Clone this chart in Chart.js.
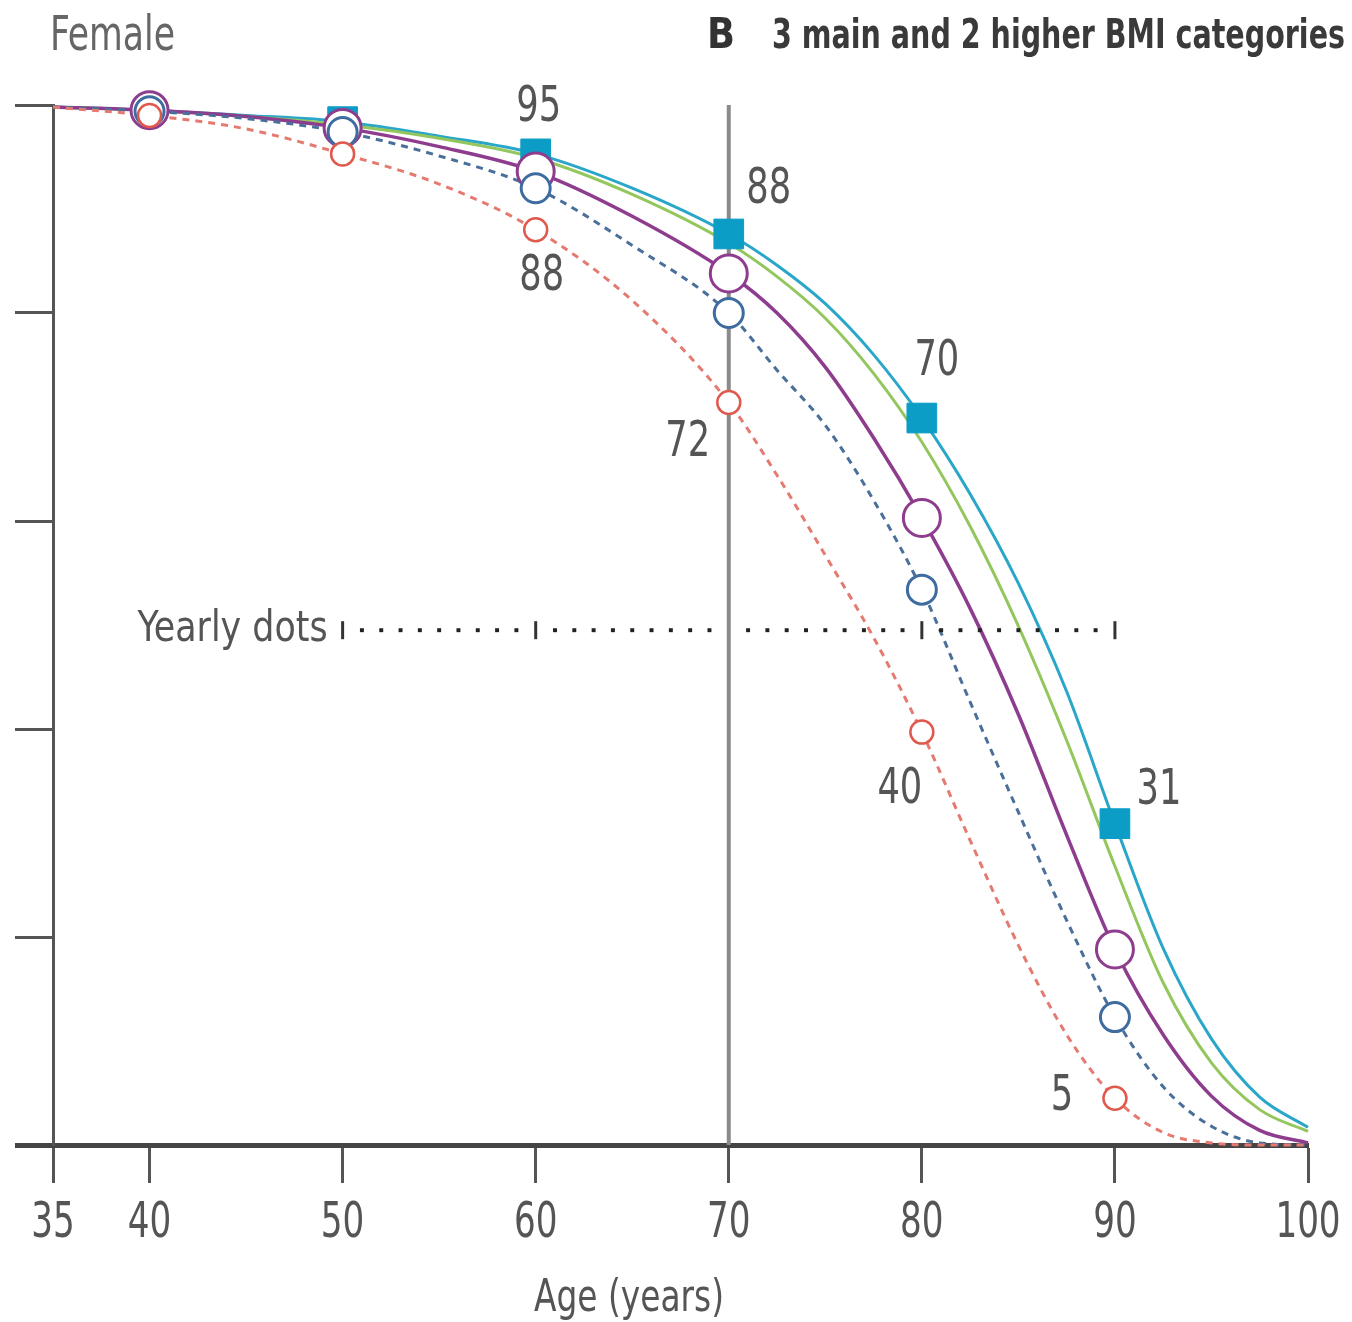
<!DOCTYPE html>
<html><head><meta charset="utf-8">
<script src="https://cdn.jsdelivr.net/npm/chart.js@4.4.1/dist/chart.umd.min.js"></script>
<style>html,body{margin:0;padding:0;background:#fff;} #wrap{width:1352px;height:1322px;}</style>
</head><body><div id="wrap"><canvas id="c" width="1352" height="1322"></canvas></div>
<script>
// ---- data ----
const ages = [35,40,45,50,55,60,65,70,72.5,75,77.5,80,82.5,85,87.5,90,92.5,95,97.5,100];
const cyanValues   = [99.8,99.5,99.0,98.4,97.0,95.3,92.0,87.6,84.6,80.9,76.0,69.9,62.6,54.0,43.6,30.9,18.9,10.2,4.6,1.7];
const greenValues  = [99.8,99.5,98.9,98.1,96.8,94.9,91.4,86.7,83.5,79.5,74.2,67.6,59.5,49.9,38.9,26.8,15.6,7.9,3.4,1.3];
const purpleValues = [99.8,99.5,98.9,97.8,96.0,93.6,89.3,83.8,80.0,74.8,68.0,60.3,51.6,41.4,29.8,18.8,10.6,4.7,1.4,0.2];
const blueValues   = [99.8,99.4,98.7,97.4,95.1,92.0,86.5,80.0,74.5,69.2,62.0,53.4,42.6,32.0,21.6,12.3,5.6,1.8,0.2,0];
const redValues    = [99.8,99.0,97.7,95.3,92.4,88.0,81.2,71.4,64.4,56.7,48.8,39.7,29.3,19.2,10.6,4.5,1.2,0.2,0,0];

const xTicks = [35,40,50,60,70,80,90,100];
const yTicks = [0,20,40,60,80,100];
const circleAges = [40,50,60,70,80,90];
const squareAges = [50,60,70,80,90];
const refAge = 70;
const yearlyLevel = 49.5;
const yearlyDotAges = [51,52,53,54,55,56,57,58,59,61,62,63,64,65,66,67,68,69,71,72,73,74,75,76,77,78,79,81,82,83,84,85,86,87,88,89];
const yearlyTickAges = [50,60,80,90];
const cyanLabelAges = [60,70,80,90];
const cyanLabels = ['95','88','70','31'];
const redLabelAges = [60,70,80,90];
const redLabels = ['88','72','40','5'];
const panelLetter = 'B';
const panelTitle = '3 main and 2 higher BMI categories';
const sexLabel = 'Female';
const xTitle = 'Age (years)';
const yearlyText = 'Yearly dots';

// ---- styling ----
const FONT = "'DejaVu Sans Condensed', 'DejaVu Sans', sans-serif";
const cyanLabelOffsets = [[3,-46],[40,-44],[15,-56],[44,-32]];
const redLabelOffsets = [[6,47],[-41,41],[-22,58],[-53,-1]];

function series(values){ return ages.map((a,i)=>({x:a,y:values[i]})); }
function pick(values, list){ return list.map(a=>({x:a,y:values[ages.indexOf(a)]})); }

// draw text condensed horizontally; either fixed scale or fit to a target width
function drawText(ctx, text, x, y, font, opts){
  ctx.save();
  ctx.font = font;
  const w = ctx.measureText(text).width;
  const sx = opts.width ? opts.width / w : (opts.scale || 1);
  ctx.textAlign = 'left';
  ctx.textBaseline = opts.baseline || 'alphabetic';
  let left = x;
  if (opts.align === 'center') left = x - w*sx/2;
  else if (opts.align === 'right') left = x - w*sx;
  ctx.translate(left, y);
  ctx.scale(sx, 1);
  ctx.fillStyle = opts.color || '#555';
  ctx.fillText(text, 0, 0);
  ctx.restore();
}

const lineBase = {type:'line', pointRadius:0, cubicInterpolationMode:'monotone', fill:false, clip:false};

const textPlugin = {
  id:'texts',
  afterDatasetsDraw(chart){
    const {ctx, scales:{x,y}} = chart;
    const numFont = `49px ${FONT}`;
    cyanLabelAges.forEach((a,i)=>{
      const v = cyanValues[ages.indexOf(a)];
      drawText(ctx, cyanLabels[i], x.getPixelForValue(a)+cyanLabelOffsets[i][0], y.getPixelForValue(v)+cyanLabelOffsets[i][1], numFont, {scale:0.8, align:'center', baseline:'middle', color:'#555'});
    });
    redLabelAges.forEach((a,i)=>{
      const v = redValues[ages.indexOf(a)];
      drawText(ctx, redLabels[i], x.getPixelForValue(a)+redLabelOffsets[i][0], y.getPixelForValue(v)+redLabelOffsets[i][1], numFont, {scale:0.8, align:'center', baseline:'middle', color:'#555'});
    });
    // x tick labels
    xTicks.forEach(t=>{
      drawText(ctx, String(t), x.getPixelForValue(t), 1237, `50px ${FONT}`, {scale:0.76, align:'center', color:'#555'});
    });
    drawText(ctx, yearlyText, x.getPixelForValue(yearlyTickAges[0]) - 15, 641, `42px ${FONT}`, {width:190, align:'right', color:'#555'});
    drawText(ctx, xTitle, 629, 1311, `45px ${FONT}`, {width:190, align:'center', color:'#555'});
    drawText(ctx, sexLabel, 50, 50, `48px ${FONT}`, {width:125, color:'#666'});
    drawText(ctx, panelLetter, 707, 48, `bold 42px ${FONT}`, {width:28, color:'#333'});
    drawText(ctx, panelTitle, 772, 48, `bold 41px ${FONT}`, {width:573, color:'#3a3a3a'});
  }
};

new Chart(document.getElementById('c'), {
  type:'line',
  data:{ datasets:[
    {type:'line', data:[{x:refAge,y:0},{x:refAge,y:100}], borderColor:'#8a8a8a', borderWidth:4, pointRadius:0, order:100, clip:false},
    {...lineBase, data:series(cyanValues), borderColor:'#2aa6c9', borderWidth:3, order:50},
    {...lineBase, data:series(greenValues), borderColor:'#93c75e', borderWidth:3, order:49},
    {...lineBase, data:series(purpleValues), borderColor:'#8e3d8e', borderWidth:3.5, order:48},
    {...lineBase, data:series(blueValues), borderColor:'#4a6f9a', borderWidth:3, borderDash:[7,6], order:47},
    {...lineBase, data:series(redValues), borderColor:'#e47a70', borderWidth:3, borderDash:[7,6], order:46},
    {type:'scatter', data:yearlyDotAges.map(a=>({x:a,y:yearlyLevel})), pointStyle:'rect', pointRadius:2.8, backgroundColor:'#222', borderWidth:0, order:20, clip:false},
    {type:'scatter', data:yearlyTickAges.map(a=>({x:a,y:yearlyLevel})), pointStyle:'line', rotation:90, pointRadius:9, borderColor:'#333', borderWidth:3, order:19, clip:false},
    {type:'scatter', data:pick(cyanValues, squareAges), pointStyle:'rect', pointRadius:21, backgroundColor:'#0b9dc6', borderColor:'#0b9dc6', borderWidth:1, order:10, clip:false},
    {type:'scatter', data:pick(purpleValues, circleAges), pointStyle:'circle', pointRadius:18.5, backgroundColor:'#fff', borderColor:'#8e3d8e', borderWidth:3, order:9, clip:false},
    {type:'scatter', data:pick(blueValues, circleAges), pointStyle:'circle', pointRadius:14.5, backgroundColor:'#fff', borderColor:'#3f6ca0', borderWidth:3, order:8, clip:false},
    {type:'scatter', data:pick(redValues, circleAges), pointStyle:'circle', pointRadius:11.5, backgroundColor:'#fff', borderColor:'#e0594d', borderWidth:2.5, order:7, clip:false}
  ]},
  options:{
    responsive:false, animation:false, events:[],
    layout:{padding:{left:15,right:44,top:105,bottom:0}},
    plugins:{legend:{display:false}, tooltip:{enabled:false}, title:{display:false}},
    scales:{
      x:{type:'linear', min:35, max:100,
        afterBuildTicks:s=>{ s.ticks = xTicks.map(v=>({value:v})); },
        afterFit:s=>{ s.height = 177; },
        border:{display:true, color:'#444', width:5},
        grid:{display:true, drawOnChartArea:false, drawTicks:true, tickLength:38, tickColor:'#555', tickWidth:3},
        ticks:{display:false}
      },
      y:{type:'linear', min:0, max:100,
        afterBuildTicks:s=>{ s.ticks = yTicks.map(v=>({value:v})); },
        afterFit:s=>{ s.width = 38; },
        border:{display:true, color:'#555', width:3},
        grid:{display:true, drawOnChartArea:false, drawTicks:true, tickLength:38,
          tickColor:ctx=> ctx.tick && ctx.tick.value===0 ? '#444' : '#555',
          tickWidth:ctx=> ctx.tick && ctx.tick.value===0 ? 5 : 3},
        ticks:{display:false}
      }
    }
  },
  plugins:[textPlugin]
});
</script></body></html>
